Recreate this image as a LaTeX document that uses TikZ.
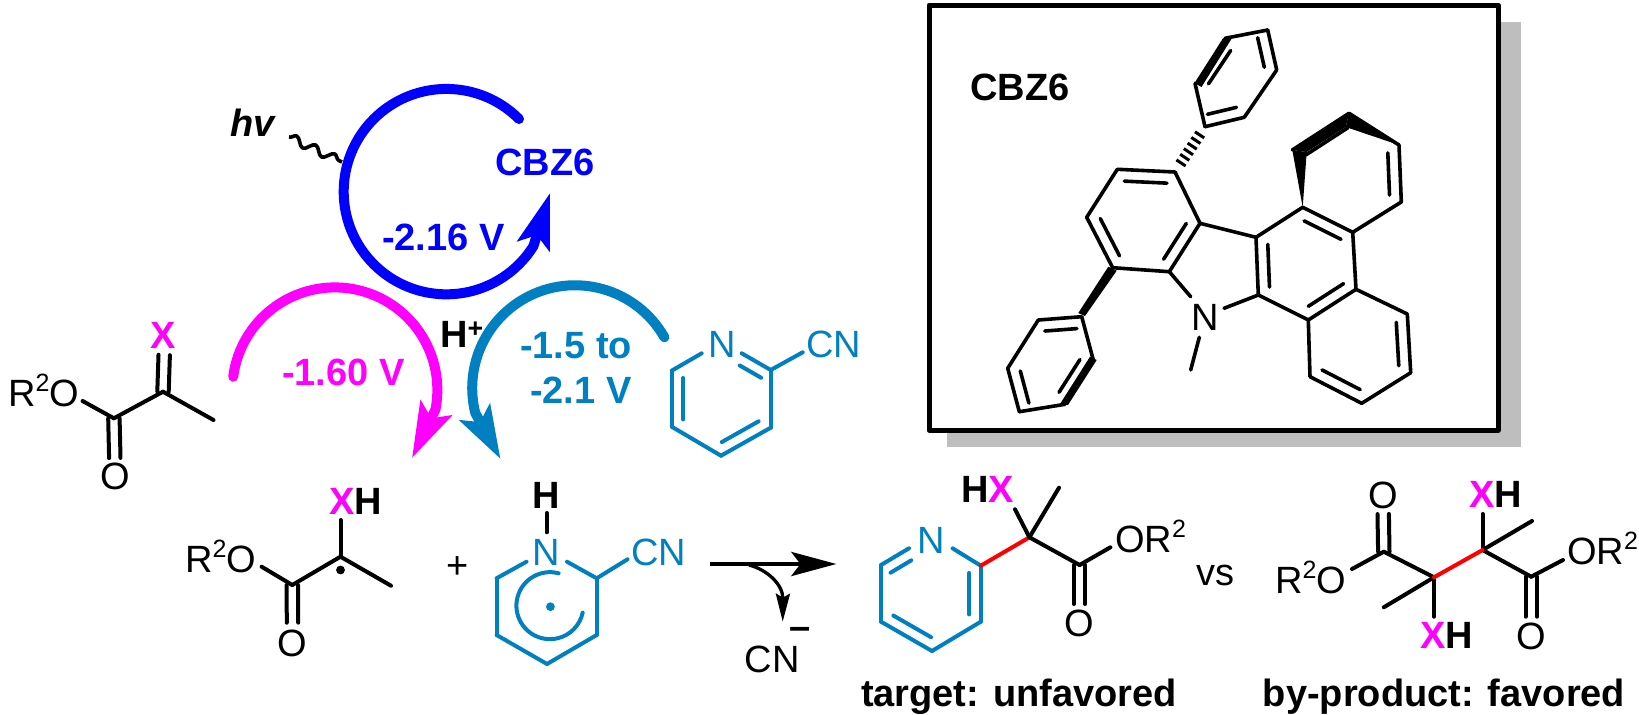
\documentclass[tikz,border=0pt]{standalone}
\usepackage{fontspec}
\setmainfont{Liberation Sans}
\usepackage{xcolor}
\usetikzlibrary{arrows.meta,calc,decorations.pathmorphing}

\definecolor{cbzblue}{RGB}{0,0,255}
\definecolor{xpink}{RGB}{255,0,255}
\definecolor{pyteal}{RGB}{0,128,192}
\definecolor{shadegray}{RGB}{190,190,190}

% inner line of a ring double bond, ring on the left of #1 -> #2
\newcommand{\ringline}[2]{\draw[bond] ($(#1)!.13!(#2)!11.5pt!90:(#2)$) -- ($(#2)!.13!(#1)!11.5pt!-90:(#1)$);}
% two parallel lines of a C=O or C=X
\newcommand{\twinline}[2]{\draw[bond] ($(#1)!5.7pt!90:(#2)$) -- ($(#2)!5.7pt!-90:(#1)$);
  \draw[bond] ($(#1)!5.7pt!-90:(#2)$) -- ($(#2)!5.7pt!90:(#1)$);}
\newcommand{\suptwo}{\raisebox{15pt}{\fontsize{25}{25}\selectfont 2}}

\begin{document}
\begin{tikzpicture}[x=1pt, y=-1pt, line join=round]

    \tikzstyle{bond}=[line width=4pt, line cap=round]
    \tikzstyle{thinbond}=[line width=3.6pt, line cap=round]
    \tikzstyle{atom}=[font=\fontsize{38}{38}\selectfont, inner sep=0pt, anchor=base west]
    \tikzstyle{heavy}=[atom, font=\fontsize{38}{38}\selectfont\bfseries]
    \tikzstyle{curlyarc}=[line width=10pt, line cap=round]

    \useasboundingbox (0,0) rectangle (1639,715);

    % boxed catalyst
    \fill[shadegray] (947,22) rectangle (1521,447);
    \draw[line width=5pt, fill=white] (929,5) rectangle (1498,430);
    \node[heavy] (CBZLABEL) at (970,100) {CBZ6};

    \coordinate (A1) at (1175,172);
    \coordinate (A2) at (1117.3,169.3);
    \coordinate (A3) at (1086.7,217.3);
    \coordinate (A4) at (1112.7,267.7);
    \coordinate (A5) at (1169.3,271.7);
    \coordinate (A6) at (1200,223.3);
    \coordinate (B1) at (1256,237.3);
    \coordinate (B2) at (1258.3,295);
    \coordinate (B3) at (1308.3,320);
    \coordinate (B4) at (1356,289.3);
    \coordinate (B5) at (1352.7,232.3);
    \coordinate (B6) at (1302.7,207.3);
    \coordinate (C1) at (1292.3,150);
    \coordinate (C2) at (1349,113.3);
    \coordinate (C3) at (1399,145);
    \coordinate (C4) at (1401.3,202);
    \coordinate (D1) at (1407.3,314);
    \coordinate (D2) at (1410.7,372.7);
    \coordinate (D3) at (1361.7,403.3);
    \coordinate (D4) at (1310,376.7);
    \coordinate (P1) at (1205,126.7);
    \coordinate (P2) at (1244.3,117.3);
    \coordinate (P3) at (1276.7,70);
    \coordinate (P4) at (1267.7,30);
    \coordinate (P5) at (1225,38.3);
    \coordinate (P6) at (1195,83.3);
    \coordinate (Q1) at (1081.7,316.7);
    \coordinate (Q2) at (1038.3,320);
    \coordinate (Q3) at (1007.7,368.3);
    \coordinate (Q4) at (1019.3,411.7);
    \coordinate (Q5) at (1065,404.3);
    \coordinate (Q6) at (1093.3,360);
    \coordinate (NA) at (1190.7,296.7);
    \coordinate (NB) at (1224,308.3);
    \coordinate (NC) at (1199.3,337.3);
    \coordinate (ME) at (1190.7,370);
    \node[atom, anchor=center] (NCBZ) at (1205,317) {N};

    \path[thinbond] (A1) edge (A2) (A2) edge (A3) (A3) edge (A4) (A4) edge (A5) (A5) edge (A6) (A6) edge (A1)
                    (A6) edge (B1) (B1) edge (B2) (B2) edge (B3) (B3) edge (B4) (B4) edge (B5) (B5) edge (B6) (B6) edge (B1)
                    (B5) edge (C4) (C4) edge (C3) (C1) edge (C2) (C2) edge (C3)
                    (B4) edge (D1) (D1) edge (D2) (D2) edge (D3) (D3) edge (D4) (D4) edge (B3)
                    (P1) edge (P2) (P2) edge (P3) (P3) edge (P4) (P4) edge (P5) (P6) edge (P1)
                    (Q1) edge (Q2) (Q2) edge (Q3) (Q3) edge (Q4) (Q4) edge (Q5) (Q6) edge (Q1)
                    (A5) edge (NA) (B2) edge (NB) (NC) edge (ME);

    \tikzset{bond/.append style={line width=3.6pt}}
    \ringline{A3}{A4}\ringline{A5}{A6}
    \ringline{A1}{A2}
    \ringline{B1}{B2}\ringline{B3}{B4}\ringline{B5}{B6}
    \ringline{C2}{C1}\ringline{C4}{C3}
    \ringline{D2}{D1}\ringline{D4}{D3}
    \ringline{P1}{P2}\ringline{P3}{P4}\ringline{P5}{P6}
    \ringline{Q1}{Q2}\ringline{Q3}{Q4}\ringline{Q5}{Q6}
    \tikzset{bond/.append style={line width=4pt}}

    % bold and hashed bonds
    \fill (B6) -- (C1) -- (1306.7,152) -- cycle;
    \fill (C1) -- (1306.7,152) -- (1345.7,127) -- (C2) -- cycle;
    \fill (C2) -- (1345.7,127) -- (C3) -- cycle;
    \fill (P5) ++(-2,0) -- (1232,38) -- (1201.5,87) -- (1194.5,83) -- cycle;
    \fill (1108.3,266.7) -- (1116.7,270.7) -- (1085,316) -- (1078.3,313) -- cycle;
    \fill (1060,404) -- (1068,405) -- (1096.7,360) -- (1090,356.7) -- cycle;
    \foreach \t in {.2,.324,.448,.572,.696,.82}
      \draw[line width=3pt] ($(A1)!\t!(P1)!5.5pt!90:(P1)$) -- ($(A1)!\t!(P1)!5.5pt!-90:(P1)$);

    % catalytic cycle
    \node[heavy, font=\fontsize{38}{38}\selectfont\bfseries\itshape] (HV) at (230,136) {hv};
    \coordinate (WAVESTART) at (289,137);
    \coordinate (WAVEEND) at (342,162);
    \draw[line width=3.6pt, decorate, decoration={snake, segment length=21pt, amplitude=4.2pt}] (WAVESTART) -- (WAVEEND);

    \coordinate (BLUESTART) at (519,119);
    \coordinate (BLUETIP) at (550,193);
    \draw[curlyarc, cbzblue, -{Stealth[length=55pt, width=33pt, inset=11pt]}]
      (BLUESTART) arc[start angle=45, end angle=328, radius=102.7pt] -- (BLUETIP);
    \node[heavy, text=cbzblue] (CBZCYCLE) at (495,175) {CBZ6};
    \node[heavy, text=cbzblue] (VBLUE) at (382,250) {-2.16 V};

    \coordinate (PINKSTART) at (233.2,376.7);
    \coordinate (PINKTIP) at (412,458);
    \draw[curlyarc, xpink, -{Stealth[length=55pt, width=34pt, inset=11pt]}]
      (PINKSTART) arc[start angle=172.6, end angle=-11, radius=102.5pt] -- (PINKTIP);
    \node[heavy, text=xpink] (VPINK) at (282,385) {-1.60 V};

    \coordinate (TEALSTART) at (664.4,337.3);
    \coordinate (TEALTIP) at (500.5,459);
    \draw[curlyarc, pyteal, -{Stealth[length=53pt, width=34pt, inset=11pt]}]
      (TEALSTART) arc[start angle=29.6, end angle=194, radius=102.8pt] -- (TEALTIP);
    \node[heavy, text=pyteal] (VTEALA) at (520,358) {-1.5 to};
    \node[heavy, text=pyteal] (VTEALB) at (530,403) {-2.1 V};

    \node[heavy] (PROTON) at (440,347) {H\textsuperscript{+}};

    % keto ester
    \coordinate (K1) at (82.6,401);
    \coordinate (K2) at (113.9,418.3);
    \coordinate (K3) at (163,391.7);
    \coordinate (K4) at (213.5,420);
    \coordinate (K5) at (164.2,355);
    \coordinate (K6) at (114.8,458);
    \node[atom] (KOR) at (8,406) {R\suptwo O};
    \node[atom, anchor=center] (KO) at (115,476) {O};
    \node[heavy, anchor=base, text=xpink] (KX) at (163.5,348) {X};
    \path[bond] (K1) edge (K2) (K2) edge (K3) (K3) edge (K4);
    \twinline{K3}{K5}
    \twinline{K2}{K6}

    % ketyl radical
    \coordinate (L1) at (261.6,566.7);
    \coordinate (L2) at (292.3,585);
    \coordinate (L3) at (340.5,556.7);
    \coordinate (L4) at (391,585.7);
    \coordinate (L5) at (340.5,520);
    \coordinate (L6) at (292.5,622.7);
    \node[atom] (LOR) at (185,572) {R\suptwo O};
    \node[atom, anchor=center] (LO) at (292.3,643) {O};
    \node[heavy] (LX) at (329,514) {\textcolor{xpink}{X}H};
    \path[bond] (L1) edge (L2) (L2) edge (L3) (L3) edge (L4) (L3) edge (L5);
    \twinline{L2}{L6}
    \fill (340.5,570) circle (4.4pt);

    \node[atom, anchor=center] (PLUS) at (458,568) {+};

    % pyridine
    \coordinate (M1) at (701.7,353.3);
    \coordinate (M2) at (671.7,370.7);
    \coordinate (M3) at (671.7,426.7);
    \coordinate (M4) at (721,455.7);
    \coordinate (M5) at (770.7,427.7);
    \coordinate (M6) at (770.7,370);
    \coordinate (M7) at (741.7,353.3);
    \coordinate (M8) at (802.7,352.3);
    \begin{scope}[pyteal]
      \node[atom, text=pyteal] (MN) at (708,357) {N};
      \node[atom, text=pyteal] (MCN) at (806,357) {CN};
      \path[bond] (M1) edge (M2) (M2) edge (M3) (M3) edge (M4) (M4) edge (M5) (M5) edge (M6) (M6) edge (M7) (M6) edge (M8);
      \ringline{M2}{M3}
      \ringline{M4}{M5}
      \ringline{M6}{M7}
    \end{scope}

    % pyridinyl radical
    \coordinate (R1) at (526.5,561.7);
    \coordinate (R2) at (496.6,578.3);
    \coordinate (R3) at (496.6,635);
    \coordinate (R4) at (547,664);
    \coordinate (R5) at (596.7,635);
    \coordinate (R6) at (596.7,578.3);
    \coordinate (R7) at (567,561.7);
    \coordinate (R8) at (627.5,559.3);
    \coordinate (R9) at (546.7,513);
    \coordinate (R10) at (546.7,532.3);
    \coordinate (RARC) at (558.6,573.3);
    \node[heavy, anchor=base] (RH) at (546,508) {H};
    \draw[bond] (R9) -- (R10);
    \begin{scope}[pyteal]
      \node[atom, anchor=base, text=pyteal] (RN) at (546,565) {N};
      \node[atom, text=pyteal] (RCN) at (631,565) {CN};
      \path[bond] (R1) edge (R2) (R2) edge (R3) (R3) edge (R4) (R4) edge (R5) (R5) edge (R6) (R6) edge (R7) (R6) edge (R8);
      \draw[bond] (RARC) arc[start angle=75, end angle=348, radius=33.5pt];
      \fill (550.4,606.7) circle (4.4pt);
    \end{scope}

    % reaction arrow
    \coordinate (ARROWSTART) at (710,564);
    \coordinate (ARROWEND) at (836.4,564);
    \coordinate (BRANCHSTART) at (749,565);
    \coordinate (BRANCHEND) at (782.7,621.7);
    \draw[line width=4.5pt, -{Stealth[length=45pt, width=24pt, inset=9pt]}] (ARROWSTART) -- (ARROWEND);
    \draw[line width=3.3pt, -{Stealth[length=28pt, width=14pt, inset=4pt]}] (BRANCHSTART) .. controls (768,570) and (783,585) .. (BRANCHEND);
    \node[atom] (CNOUT) at (744.5,672) {CN};
    \node[atom, anchor=center, font=\fontsize{38}{38}\selectfont\bfseries] (CNMINUS) at (800.5,633) {--};

    % target product
    \coordinate (S1) at (909,548.3);
    \coordinate (S2) at (881,565);
    \coordinate (S3) at (881,621.7);
    \coordinate (S4) at (932,651);
    \coordinate (S5) at (980.8,621.7);
    \coordinate (S6) at (980.8,565.7);
    \coordinate (S7) at (952.6,548.3);
    \coordinate (S8) at (1029.4,537.3);
    \coordinate (S9) at (1015,509.3);
    \coordinate (S10) at (1059,487.7);
    \coordinate (S11) at (1079.6,565);
    \coordinate (S12) at (1110.4,547.3);
    \coordinate (S13) at (1079.6,604);
    \begin{scope}[pyteal]
      \node[atom, anchor=base, text=pyteal] (SN) at (931,553) {N};
      \path[bond] (S1) edge (S2) (S2) edge (S3) (S3) edge (S4) (S4) edge (S5) (S5) edge (S6) (S6) edge (S7);
      \ringline{S1}{S2}
      \ringline{S3}{S4}
      \ringline{S5}{S6}
    \end{scope}
    \draw[bond, red] (S6) -- (S8);
    \path[bond] (S8) edge (S9) (S8) edge (S10) (S8) edge (S11) (S11) edge (S12);
    \twinline{S11}{S13}
    \node[heavy] (SX) at (961,502) {H\textcolor{xpink}{X}};
    \node[atom] (SOR) at (1115,552) {OR\suptwo};
    \node[atom, anchor=center] (SO) at (1079,623.3) {O};
    \node[atom] (VS) at (1196,585.7) {vs};
    \node[heavy, anchor=base] (TARGET) at (1019,706.5) {target: unfavored};

    % by-product
    \coordinate (T1) at (1352,569);
    \coordinate (T2) at (1383.8,551.7);
    \coordinate (T3) at (1383.2,514);
    \coordinate (T4) at (1434,577.3);
    \coordinate (T5) at (1383.8,607.3);
    \coordinate (T6) at (1434,616.7);
    \coordinate (T7) at (1482.6,550);
    \coordinate (T8) at (1532,521);
    \coordinate (T9) at (1482.6,514);
    \coordinate (T10) at (1531.2,576.7);
    \coordinate (T11) at (1563,560);
    \coordinate (T12) at (1531.2,616.7);
    \path[bond] (T1) edge (T2) (T2) edge (T4) (T4) edge (T5) (T4) edge (T6) (T7) edge (T8) (T7) edge (T9) (T7) edge (T10) (T10) edge (T11);
    \draw[bond, red] (T4) -- (T7);
    \twinline{T2}{T3}
    \twinline{T10}{T12}
    \node[atom] (TOL) at (1275,593) {R\suptwo O};
    \node[atom, anchor=center] (TOA) at (1382.8,495) {O};
    \node[heavy] (TXA) at (1469,507) {\textcolor{xpink}{X}H};
    \node[heavy] (TXB) at (1420,648.5) {\textcolor{xpink}{X}H};
    \node[atom] (TOR) at (1567,564) {OR\suptwo};
    \node[atom, anchor=center] (TOB) at (1531,636) {O};
    \node[heavy, anchor=base] (BYPRODUCT) at (1444,706.5) {by-product: favored};

  \end{tikzpicture}
\end{document}
